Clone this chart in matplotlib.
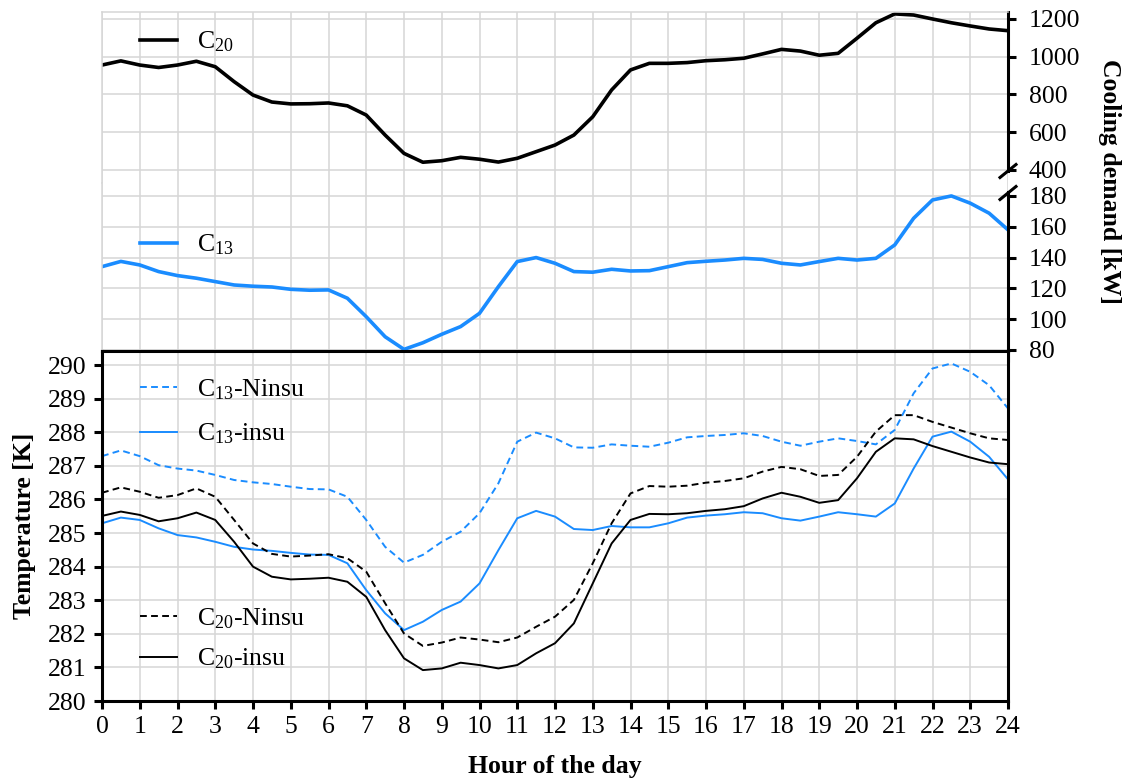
import matplotlib
matplotlib.use("Agg")
import matplotlib.pyplot as plt
import numpy as np

plt.rcParams['font.family'] = ['Liberation Serif', 'DejaVu Serif']
plt.rcParams['mathtext.fontset'] = 'custom'
plt.rcParams['mathtext.rm'] = 'Liberation Serif'
plt.rcParams['mathtext.default'] = 'regular'

# half-hour samples, 0..24 h
hours = np.arange(0, 24.5, 0.5)

c20_demand = [956, 978, 956, 943, 956, 976, 947, 868, 797, 760, 750, 751, 755,
              740, 691, 585, 488, 441, 449, 467, 457, 442, 462, 497, 532, 585,
              682, 824, 930, 965, 965, 969, 979, 984, 992, 1015, 1039, 1030,
              1008, 1018, 1098, 1180, 1227, 1221, 1200, 1180, 1163, 1147, 1138]

c13_demand = [134.1, 137.5, 135.2, 130.9, 128.3, 126.6, 124.4, 122.2, 121.4,
              120.9, 119.4, 118.8, 119.0, 113.6, 101.6, 88.6, 80.4, 84.7, 90.2,
              95.2, 103.8, 121.1, 137.4, 140.0, 136.3, 130.9, 130.5, 132.4,
              131.3, 131.5, 134.1, 136.7, 137.6, 138.4, 139.5, 138.8, 136.3,
              135.2, 137.4, 139.5, 138.4, 139.5, 148.2, 165.5, 177.4, 180.0,
              175.3, 168.8, 158.0]

c13_ninsu = [287.29, 287.46, 287.29, 287.02, 286.92, 286.86, 286.73, 286.58,
             286.51, 286.46, 286.38, 286.31, 286.30, 286.08, 285.39, 284.59,
             284.12, 284.35, 284.74, 285.04, 285.59, 286.48, 287.72, 287.99,
             287.82, 287.55, 287.54, 287.64, 287.60, 287.57, 287.69, 287.85,
             287.89, 287.92, 287.97, 287.89, 287.72, 287.60, 287.72, 287.82,
             287.74, 287.64, 288.07, 289.16, 289.90, 290.05, 289.80, 289.40,
             288.71]

c13_insu = [285.29, 285.46, 285.39, 285.14, 284.94, 284.87, 284.74, 284.59,
            284.51, 284.47, 284.41, 284.36, 284.35, 284.10, 283.30, 282.61,
            282.11, 282.36, 282.71, 282.96, 283.50, 284.49, 285.44, 285.66,
            285.49, 285.12, 285.09, 285.21, 285.17, 285.17, 285.29, 285.46,
            285.52, 285.56, 285.62, 285.59, 285.44, 285.37, 285.49, 285.62,
            285.56, 285.49, 285.88, 286.92, 287.87, 288.02, 287.72, 287.27,
            286.60]

c20_ninsu = [286.20, 286.36, 286.23, 286.05, 286.13, 286.33, 286.08, 285.39,
             284.69, 284.38, 284.30, 284.33, 284.37, 284.25, 283.85, 282.91,
             282.01, 281.64, 281.74, 281.89, 281.83, 281.75, 281.89, 282.21,
             282.51, 283.01, 284.10, 285.29, 286.18, 286.40, 286.38, 286.41,
             286.50, 286.55, 286.63, 286.83, 286.97, 286.90, 286.70, 286.73,
             287.27, 288.02, 288.51, 288.51, 288.31, 288.14, 287.97, 287.82,
             287.77]

c20_insu = [285.51, 285.64, 285.54, 285.35, 285.44, 285.61, 285.39, 284.74,
            284.00, 283.70, 283.62, 283.64, 283.67, 283.55, 283.10, 282.11,
            281.27, 280.92, 280.97, 281.14, 281.07, 280.97, 281.07, 281.42,
            281.72, 282.31, 283.50, 284.69, 285.39, 285.57, 285.56, 285.59,
            285.66, 285.71, 285.80, 286.03, 286.20, 286.08, 285.90, 285.98,
            286.63, 287.42, 287.82, 287.79, 287.59, 287.42, 287.25, 287.10,
            287.05]

hour_ticks = list(range(0, 25))
c20_ticks = [400, 600, 800, 1000, 1200]
c13_ticks = [80, 100, 120, 140, 160, 180]
temp_ticks = list(range(280, 291))

BLUE = '#1a8cff'
GRID = '#d6d6d6'
FS = 18.5
W, H = 1128, 780
LEG_X = 38 / 906  # legend handles start a bit right of the y axis


def px_axes(left, top, right, bottom):
    return fig.add_axes([left / W, 1 - bottom / H, (right - left) / W, (bottom - top) / H])


fig = plt.figure(figsize=(W / 100, H / 100), dpi=100)

ax_hi = px_axes(102, 12, 1008, 183)
ax_lo = px_axes(102, 183, 1008, 351)
ax_t = px_axes(102, 351, 1008, 701)

# ---- top panel: cooling demand with broken axis ----
for ax in (ax_hi, ax_lo):
    ax.set_xlim(0, 24)
    ax.set_xticks(hour_ticks)
    ax.grid(True, color=GRID, lw=1.1)
    ax.set_axisbelow(True)
    ax.yaxis.tick_right()
    ax.tick_params(axis='y', direction='out', length=6, width=2.2,
                   labelsize=FS, pad=9)
    ax.spines['right'].set_linewidth(2.2)
    ax.spines['left'].set_color(GRID)
    ax.spines['left'].set_linewidth(1.1)

ax_hi.plot(hours, c20_demand, color='black', lw=2.6, label='C$_{20}$')
ax_hi.set_ylim(331, 1237)
ax_hi.set_yticks(c20_ticks)
ax_hi.spines['right'].set_bounds(392, 1237)
ax_hi.spines['bottom'].set_visible(False)
ax_hi.spines['top'].set_color(GRID)
ax_hi.spines['top'].set_linewidth(1.1)
ax_hi.tick_params(axis='x', length=0, labelbottom=False)

ax_lo.plot(hours, c13_demand, color=BLUE, lw=2.6, label='C$_{13}$')
ax_lo.set_ylim(79.35, 188.4)
ax_lo.set_yticks(c13_ticks)
ax_lo.spines['right'].set_bounds(79.35, 182.6)
ax_lo.spines['top'].set_visible(False)
ax_lo.spines['bottom'].set_linewidth(2.2)
ax_lo.tick_params(axis='x', direction='out', length=8, width=2.2,
                  labelbottom=False)

# break marks on the right spine
dx = 8 / 906
for ax, yc, h in ((ax_hi, 12 / 171, 171), (ax_lo, 158 / 168, 168)):
    dy = 6.5 / h
    ax.plot([1 - dx, 1 + dx], [yc - dy, yc + dy], transform=ax.transAxes,
            color='black', lw=2.2, clip_on=False)

ax_hi.legend(loc='center left', bbox_to_anchor=(LEG_X, 1 - 30 / 171),
             frameon=False, fontsize=FS, handlelength=1.45, handletextpad=0.75,
             borderaxespad=0, borderpad=0)
ax_lo.legend(loc='center left', bbox_to_anchor=(LEG_X, 1 - 62 / 168),
             frameon=False, fontsize=FS, handlelength=1.45, handletextpad=0.75,
             borderaxespad=0, borderpad=0)

# ---- bottom panel: temperatures ----
ax_t.plot(hours, c13_ninsu, color=BLUE, lw=1.4, dashes=(3.5, 2.2),
          label='C$_{13}$-Ninsu')
ax_t.plot(hours, c13_insu, color=BLUE, lw=1.4, label='C$_{13}$-insu')
ax_t.plot(hours, c20_ninsu, color='black', lw=1.4, dashes=(3.5, 2.2),
          label='C$_{20}$-Ninsu')
ax_t.plot(hours, c20_insu, color='black', lw=1.4, label='C$_{20}$-insu')

ax_t.set_xlim(0, 24)
ax_t.set_ylim(280, 290.42)
ax_t.set_xticks(hour_ticks)
ax_t.set_yticks(temp_ticks)
ax_t.grid(True, color=GRID, lw=1.1)
ax_t.set_axisbelow(True)
for s in ax_t.spines.values():
    s.set_linewidth(2.2)
ax_t.tick_params(direction='out', length=6, width=2.2, labelsize=FS, pad=5)

handles, labels = ax_t.get_legend_handles_labels()
leg1 = ax_t.legend(handles[:2], labels[:2], loc='upper left',
                   bbox_to_anchor=(LEG_X, 1 - 26 / 350), frameon=False,
                   fontsize=FS, handlelength=1.45, handletextpad=0.75,
                   labelspacing=0.78, borderaxespad=0, borderpad=0)
ax_t.add_artist(leg1)
ax_t.legend(handles[2:], labels[2:], loc='upper left',
            bbox_to_anchor=(LEG_X, 1 - 255 / 350), frameon=False,
            fontsize=FS, handlelength=1.45, handletextpad=0.75,
            labelspacing=0.62, borderaxespad=0, borderpad=0)

fig.text(555 / W, 1 - 766 / H, 'Hour of the day', fontsize=FS, fontweight='bold',
         ha='center', va='center')
fig.text(25 / W, 1 - 526 / H, 'Temperature [K]', fontsize=FS, fontweight='bold',
         rotation=90, ha='center', va='center')
fig.text(1110 / W, 1 - 181 / H, 'Cooling demand [kW]', fontsize=FS,
         fontweight='bold', rotation=270, ha='center', va='center')

fig.savefig('out.png', dpi=100)
